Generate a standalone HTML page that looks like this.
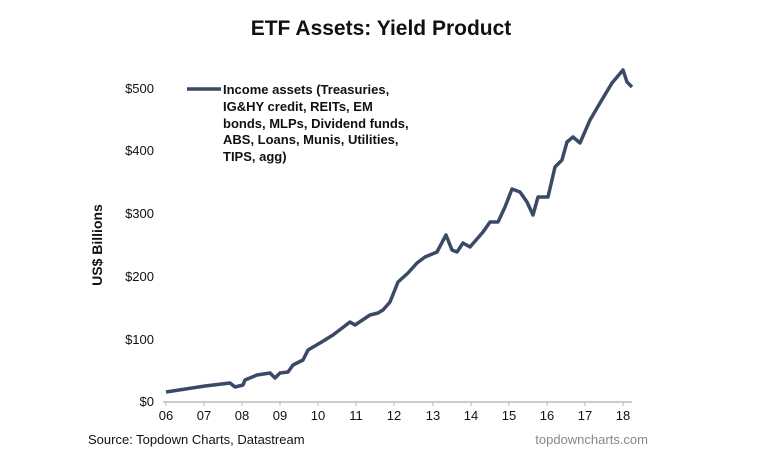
<!DOCTYPE html><html><head><style>body{margin:0;background:#fff}svg{display:block}text{font-family:"Liberation Sans",Arial,sans-serif}</style></head><body>
<svg width="761" height="466" viewBox="0 0 761 466">
<text x="381" y="35" text-anchor="middle" font-size="21" font-weight="bold" fill="#111">ETF Assets: Yield Product</text>
<g font-size="13" fill="#111" text-anchor="end">
<text x="154" y="93">$500</text><text x="154" y="155">$400</text><text x="154" y="218">$300</text><text x="154" y="281">$200</text><text x="154" y="344">$100</text><text x="154" y="406">$0</text></g>
<text transform="translate(102,245) rotate(-90)" text-anchor="middle" font-size="14" font-weight="bold" fill="#111">US$ Billions</text>
<line x1="163" y1="402" x2="632" y2="402" stroke="#bbb" stroke-width="1.5"/>
<g stroke="#bbb"><line x1="166" y1="402" x2="166" y2="406"/><line x1="204" y1="402" x2="204" y2="406"/><line x1="242" y1="402" x2="242" y2="406"/><line x1="280" y1="402" x2="280" y2="406"/><line x1="318" y1="402" x2="318" y2="406"/><line x1="356" y1="402" x2="356" y2="406"/><line x1="394" y1="402" x2="394" y2="406"/><line x1="433" y1="402" x2="433" y2="406"/><line x1="471" y1="402" x2="471" y2="406"/><line x1="509" y1="402" x2="509" y2="406"/><line x1="547" y1="402" x2="547" y2="406"/><line x1="585" y1="402" x2="585" y2="406"/><line x1="623" y1="402" x2="623" y2="406"/></g>
<g font-size="13" fill="#111" text-anchor="middle">
<text x="166" y="420">06</text><text x="204" y="420">07</text><text x="242" y="420">08</text><text x="280" y="420">09</text><text x="318" y="420">10</text><text x="356" y="420">11</text><text x="394" y="420">12</text><text x="433" y="420">13</text><text x="471" y="420">14</text><text x="509" y="420">15</text><text x="547" y="420">16</text><text x="585" y="420">17</text><text x="623" y="420">18</text></g>
<polyline fill="none" stroke="#3a4a66" stroke-width="3.5" stroke-linejoin="round" points="166,392 205,386 230,383 235,387 243,385 245,380 257,375 270,373 275,378 280,373 288,372 293,365 303,360 308,350 320,343 333,335 350,322 355,325 370,315 378,313 383,310 390,302 398,282 408,273 417,263 425,257 437,252 446,235 452,250 457,252 463,243 470,247 483,232 490,222 498,222 505,207 512,189 520,192 527,202 533,215 538,197 548,197 555,167 562,160 567,142 573,137 580,143 590,120 600,103 612,83 623,70 627,82 632,87"/>
<line x1="187" y1="89" x2="221" y2="89" stroke="#3a4a66" stroke-width="3.5"/>
<g font-size="13" font-weight="bold" fill="#111">
<text x="223" y="94">Income assets (Treasuries,</text><text x="223" y="111">IG&amp;HY credit, REITs, EM</text><text x="223" y="128">bonds, MLPs, Dividend funds,</text><text x="223" y="144">ABS, Loans, Munis, Utilities,</text><text x="223" y="161">TIPS, agg)</text></g>
<text x="88" y="444" font-size="13" fill="#111">Source: Topdown Charts, Datastream</text>
<text x="648" y="444" font-size="13" fill="#888" text-anchor="end">topdowncharts.com</text>
</svg></body></html>
